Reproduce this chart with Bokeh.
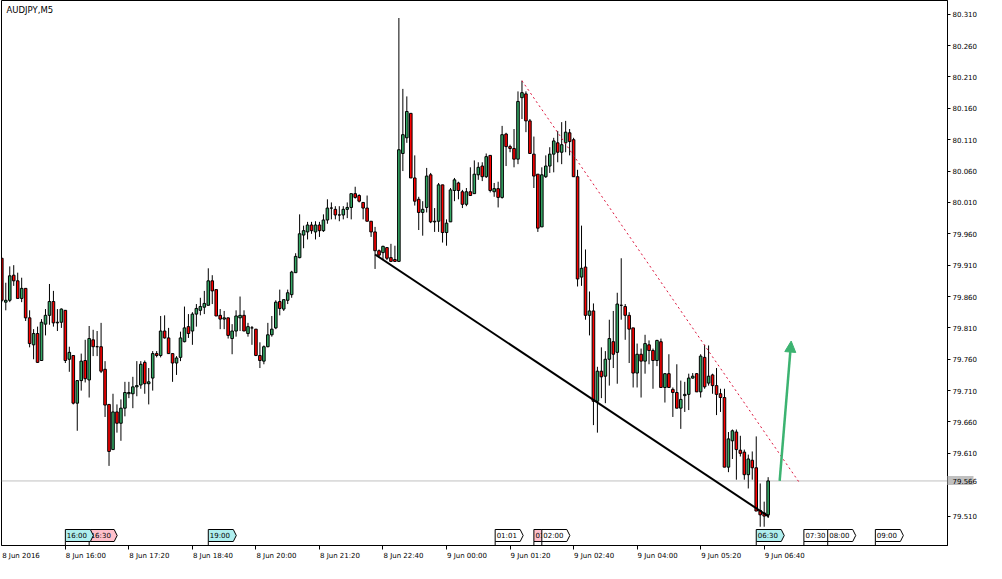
from bokeh.plotting import figure
from bokeh.models import (Range1d, FixedTicker, PrintfTickFormatter, Label,
                          ColumnDataSource, Span, Arrow, NormalHead)
from bokeh.core.properties import value
from bokeh.embed import file_html
from bokeh.resources import INLINE

# ---------------- data ----------------
symbol = "AUDJPY,M5"
first_bar = -1  # bar index of the first (partly hidden) candle; index 15 = 8 Jun 16:00

opens = [79.921, 79.851, 79.854, 79.894, 79.885, 79.857, 79.873, 79.826, 79.783, 79.801,
         79.758, 79.816, 79.830, 79.852, 79.818, 79.819, 79.838, 79.760, 79.766, 79.690,
         79.726, 79.758, 79.727, 79.791, 79.780, 79.780, 79.744, 79.688, 79.616, 79.676,
         79.658, 79.682, 79.705, 79.705, 79.716, 79.719, 79.755, 79.721, 79.730, 79.769,
         79.766, 79.805, 79.794, 79.769, 79.754, 79.763, 79.788, 79.812, 79.805, 79.832,
         79.838, 79.843, 79.846, 79.885, 79.871, 79.830, 79.824, 79.826, 79.793, 79.805,
         79.826, 79.830, 79.801, 79.810, 79.808, 79.766, 79.757, 79.780, 79.799, 79.810,
         79.852, 79.840, 79.854, 79.863, 79.898, 79.922, 79.958, 79.963, 79.974, 79.963,
         79.974, 79.965, 79.982, 80.001, 79.999, 79.990, 79.990, 79.999, 80.002, 80.024,
         80.021, 80.010, 80.001, 79.980, 79.963, 79.933, 79.930, 79.938, 79.922, 79.919,
         79.916, 80.088, 80.113, 80.152, 80.049, 80.015, 79.994, 80.002, 80.054, 79.979,
         79.980, 80.038, 79.962, 79.979, 80.029, 80.041, 80.027, 80.007, 80.027, 80.024,
         80.054, 80.068, 80.051, 80.085, 80.027, 80.032, 80.018, 80.119, 80.099, 80.096,
         80.079, 80.177, 80.183, 80.140, 80.087, 80.055, 79.971, 80.051, 80.068, 80.087,
         80.105, 80.090, 80.105, 80.121, 80.110, 80.051, 79.891, 79.907, 79.830, 79.837,
         79.693, 79.741, 79.733, 79.760, 79.788, 79.771, 79.846, 79.844, 79.830, 79.810,
         79.738, 79.768, 79.757, 79.783, 79.774, 79.758, 79.788, 79.715, 79.737, 79.712,
         79.707, 79.682, 79.702, 79.704, 79.730, 79.737, 79.708, 79.763, 79.722, 79.735,
         79.718, 79.705, 79.699, 79.588, 79.630, 79.644, 79.615, 79.612, 79.576, 79.599,
         79.587, 79.519, 79.515, 79.512]
highs = [79.921, 79.882, 79.908, 79.910, 79.898, 79.890, 79.873, 79.838, 79.808, 79.812,
         79.824, 79.840, 79.880, 79.869, 79.840, 79.841, 79.838, 79.780, 79.766, 79.726,
         79.769, 79.791, 79.813, 79.807, 79.805, 79.818, 79.757, 79.688, 79.705, 79.688,
         79.696, 79.724, 79.724, 79.732, 79.757, 79.757, 79.758, 79.746, 79.773, 79.773,
         79.829, 79.830, 79.810, 79.769, 79.765, 79.804, 79.844, 79.832, 79.835, 79.848,
         79.858, 79.869, 79.905, 79.894, 79.871, 79.840, 79.837, 79.826, 79.816, 79.838,
         79.860, 79.838, 79.818, 79.813, 79.808, 79.787, 79.782, 79.818, 79.829, 79.854,
         79.871, 79.855, 79.871, 79.901, 79.929, 79.991, 79.973, 79.979, 79.979, 79.980,
         79.979, 79.991, 80.015, 80.010, 80.004, 80.004, 80.004, 80.010, 80.024, 80.035,
         80.023, 80.010, 80.021, 79.980, 79.971, 79.935, 79.941, 79.938, 79.944, 79.941,
         80.304, 80.191, 80.179, 80.152, 80.085, 80.019, 80.012, 80.065, 80.057, 80.001,
         80.041, 80.038, 79.983, 80.033, 80.049, 80.043, 80.030, 80.033, 80.066, 80.077,
         80.074, 80.074, 80.088, 80.085, 80.041, 80.043, 80.132, 80.121, 80.102, 80.127,
         80.187, 80.204, 80.187, 80.143, 80.115, 80.055, 80.066, 80.085, 80.098, 80.113,
         80.124, 80.138, 80.140, 80.127, 80.113, 80.062, 79.973, 79.935, 79.868, 79.849,
         79.748, 79.779, 79.773, 79.823, 79.837, 79.866, 79.921, 79.848, 79.835, 79.810,
         79.785, 79.777, 79.799, 79.790, 79.777, 79.791, 79.793, 79.738, 79.768, 79.715,
         79.752, 79.726, 79.724, 79.737, 79.738, 79.738, 79.768, 79.783, 79.782, 79.737,
         79.746, 79.713, 79.713, 79.644, 79.648, 79.648, 79.638, 79.616, 79.608, 79.613,
         79.637, 79.562, 79.533, 79.572]
lows = [79.851, 79.838, 79.851, 79.877, 79.857, 79.851, 79.821, 79.779, 79.760, 79.754,
        79.758, 79.798, 79.815, 79.812, 79.805, 79.810, 79.754, 79.740, 79.688, 79.646,
        79.710, 79.723, 79.699, 79.765, 79.765, 79.738, 79.668, 79.590, 79.616, 79.643,
        79.630, 79.669, 79.698, 79.682, 79.701, 79.713, 79.705, 79.688, 79.710, 79.763,
        79.763, 79.793, 79.769, 79.724, 79.735, 79.757, 79.787, 79.794, 79.783, 79.812,
        79.830, 79.832, 79.846, 79.848, 79.829, 79.808, 79.808, 79.793, 79.768, 79.796,
        79.805, 79.805, 79.796, 79.783, 79.765, 79.746, 79.752, 79.779, 79.796, 79.808,
        79.830, 79.837, 79.848, 79.858, 79.898, 79.921, 79.937, 79.951, 79.960, 79.951,
        79.955, 79.963, 79.976, 79.983, 79.983, 79.980, 79.983, 79.985, 79.983, 80.016,
        80.010, 79.983, 79.980, 79.955, 79.904, 79.922, 79.918, 79.918, 79.915, 79.915,
        79.915, 80.060, 80.105, 80.049, 80.005, 79.966, 79.957, 79.994, 79.977, 79.963,
        79.963, 79.946, 79.941, 79.979, 80.012, 80.015, 80.001, 80.004, 80.021, 80.024,
        80.046, 80.044, 80.049, 80.026, 80.019, 80.002, 80.016, 80.068, 80.090, 80.066,
        80.071, 80.143, 80.122, 80.088, 80.033, 79.963, 79.971, 80.049, 80.057, 80.058,
        80.074, 80.071, 80.090, 80.085, 80.051, 79.876, 79.877, 79.823, 79.798, 79.655,
        79.643, 79.698, 79.690, 79.718, 79.746, 79.721, 79.823, 79.791, 79.754, 79.715,
        79.715, 79.699, 79.737, 79.752, 79.713, 79.749, 79.715, 79.691, 79.715, 79.668,
        79.682, 79.649, 79.676, 79.679, 79.729, 79.708, 79.699, 79.713, 79.718, 79.705,
        79.671, 79.676, 79.588, 79.580, 79.601, 79.568, 79.605, 79.568, 79.554, 79.568,
        79.518, 79.493, 79.493, 79.507]
closes = [79.854, 79.854, 79.893, 79.885, 79.857, 79.873, 79.826, 79.785, 79.801, 79.755,
          79.819, 79.830, 79.852, 79.818, 79.819, 79.840, 79.758, 79.771, 79.690, 79.726,
          79.757, 79.729, 79.793, 79.780, 79.780, 79.741, 79.687, 79.613, 79.676, 79.658,
          79.682, 79.707, 79.707, 79.716, 79.718, 79.752, 79.721, 79.724, 79.769, 79.766,
          79.805, 79.794, 79.769, 79.754, 79.762, 79.794, 79.810, 79.801, 79.832, 79.841,
          79.844, 79.849, 79.885, 79.869, 79.829, 79.824, 79.826, 79.798, 79.805, 79.829,
          79.830, 79.805, 79.812, 79.810, 79.766, 79.758, 79.780, 79.799, 79.808, 79.851,
          79.841, 79.855, 79.866, 79.899, 79.924, 79.960, 79.965, 79.974, 79.965, 79.974,
          79.965, 79.982, 80.001, 80.001, 79.990, 79.990, 79.999, 80.002, 80.024, 80.018,
          80.012, 80.001, 79.980, 79.963, 79.933, 79.926, 79.940, 79.921, 79.916, 79.916,
          80.094, 80.118, 80.155, 80.049, 80.012, 79.994, 79.999, 80.052, 79.979, 79.980,
          80.038, 79.962, 79.977, 80.030, 80.046, 80.029, 80.007, 80.027, 80.021, 80.055,
          80.066, 80.051, 80.083, 80.029, 80.032, 80.018, 80.118, 80.099, 80.096, 80.079,
          80.171, 80.185, 80.140, 80.088, 80.052, 79.969, 80.054, 80.068, 80.087, 80.108,
          80.090, 80.102, 80.122, 80.107, 80.051, 79.888, 79.905, 79.830, 79.837, 79.693,
          79.741, 79.732, 79.760, 79.793, 79.768, 79.848, 79.846, 79.830, 79.808, 79.738,
          79.768, 79.757, 79.785, 79.774, 79.758, 79.790, 79.715, 79.737, 79.715, 79.707,
          79.682, 79.696, 79.704, 79.730, 79.733, 79.708, 79.765, 79.716, 79.733, 79.718,
          79.704, 79.699, 79.588, 79.633, 79.646, 79.616, 79.610, 79.576, 79.601, 79.587,
          79.518, 79.512, 79.510, 79.566]

time_tick_index = [15, 31, 47, 63, 79, 95, 111, 127, 143, 159, 175, 191]
time_tick_labels = ["8 Jun 16:00", "8 Jun 17:20", "8 Jun 18:40", "8 Jun 20:00",
                    "8 Jun 21:20", "8 Jun 22:40", "9 Jun 00:00", "9 Jun 01:20",
                    "9 Jun 02:40", "9 Jun 04:00", "9 Jun 05:20", "9 Jun 06:40"]
left_date_label = "8 Jun 2016"

price_ticks = [79.51, 79.61, 79.66, 79.71, 79.76, 79.81, 79.86, 79.91,
               79.96, 80.01, 80.06, 80.11, 80.16, 80.21, 80.26, 80.31]
last_price = 79.566

# vertical-line time tags (drawn in this order)
tag_index = [21, 15, 51, 123.25, 133, 135, 189, 201, 207, 219]
tag_labels = ["16:30", "16:00", "19:00", "01:01", "01:50", "02:00", "06:30", "07:30", "08:00", "09:00"]
tag_colors = ["#FFC0CB", "#AFEEEE", "#AFEEEE", "#FFFFFF", "#FFC0CB", "#FFFFFF",
              "#AFEEEE", "#FFFFFF", "#FFFFFF", "#FFFFFF"]

support_x = [93.0, 192.2]
support_y = [79.927, 79.509]
resist_x = [130.0, 199.9]
resist_y = [80.204, 79.563]
arrow_x = [194.9, 197.8]
arrow_y = [79.566, 79.789]

# ---------------- layout constants ----------------
X0, X1 = -1.08, 237.17
Y0, Y1 = 79.4631, 80.3319
FW, FH = 946, 545
UP = "#34A865"
DOWN = "#FF0000"
ARROW = "#3CB371"
FONT = "DejaVu Sans"
px = (X1 - X0) / FW
py = (Y1 - Y0) / FH
HALF_DATE = 19.5   # half width (px) of the "8 Jun 2016" label
HALF_TIME = 20.5   # half width (px) of a "8 Jun 16:00" label
BOX_W = 26         # px length of the last-price box on the price scale

p = figure(frame_width=FW, frame_height=FH,
           x_range=Range1d(X0, X1), y_range=Range1d(Y0, Y1),
           y_axis_location="right", output_backend="svg", toolbar_location=None,
           min_border_left=1, min_border_top=0, min_border_right=39, min_border_bottom=18)
p.xgrid.visible = False
p.ygrid.visible = False
p.outline_line_color = "black"
p.outline_line_alpha = 1.0
p.background_fill_color = "white"
p.border_fill_color = "white"

# time axis: tick marks (minor ticks) at the bar times, labels left-aligned after them
label_pos = [round(X0 + HALF_DATE * px, 4)] + [round(t + HALF_TIME * px, 4) for t in time_tick_index]
xa = p.xaxis[0]
xa.ticker = FixedTicker(ticks=label_pos, minor_ticks=time_tick_index)
xa.major_label_overrides = dict(zip(label_pos, [left_date_label] + time_tick_labels))
xa.major_label_text_font_size = "7px"
xa.major_label_text_font = FONT
xa.major_label_text_color = "black"
xa.major_label_standoff = 2
xa.major_tick_out = 0
xa.major_tick_in = 0
xa.minor_tick_out = 4
xa.minor_tick_in = 0
xa.minor_tick_line_color = "black"
xa.axis_line_color = "black"

# price axis, with the last price drawn as a grey box (a wide minor tick)
ya = p.yaxis[0]
ya.ticker = FixedTicker(ticks=sorted(price_ticks + [last_price]), minor_ticks=[last_price])
ya.formatter = PrintfTickFormatter(format="%.3f")
ya.major_label_text_font_size = "7px"
ya.major_label_text_font = FONT
ya.major_label_text_color = "black"
ya.major_tick_out = 3
ya.major_tick_in = 0
ya.major_label_standoff = 5 - BOX_W
ya.axis_line_color = "black"
ya.major_tick_line_color = "black"
ya.minor_tick_in = 0
ya.minor_tick_out = BOX_W
ya.minor_tick_line_width = 9
ya.minor_tick_line_color = "#C0C0C0"

p.add_layout(Span(location=last_price, dimension="width", line_color="#C0C0C0",
                  line_width=1, level="underlay"))

bar_index = list(range(first_bar, first_bar + len(opens)))
src = ColumnDataSource(dict(
    x=bar_index, h=highs, l=lows,
    top=[max(o, c) for o, c in zip(opens, closes)],
    bottom=[min(o, c) for o, c in zip(opens, closes)],
    color=[UP if c >= o else DOWN for o, c in zip(opens, closes)],
))
p.segment(x0="x", y0="h", x1="x", y1="l", source=src, line_color="black", line_width=1)
p.vbar(x="x", width=0.65, top="top", bottom="bottom", fill_color="color",
       line_color="black", line_width=1, source=src)

p.line(support_x, support_y, line_color="black", line_width=2)
p.line(resist_x, resist_y, line_color="#DC143C", line_width=1, line_dash="2 3")
p.add_layout(Arrow(end=NormalHead(size=11, fill_color=ARROW, line_color=ARROW),
                   x_start=arrow_x[0], y_start=arrow_y[0], x_end=arrow_x[1], y_end=arrow_y[1],
                   line_color=ARROW, line_width=2.5))

# time tags at the bottom of the chart
for t, lab, col in zip(tag_index, tag_labels, tag_colors):
    xl, xr, xt = t, t + 25 * px, t + 28 * px
    yb, yt = Y0 + 4 * py, Y0 + 16 * py
    ym = (yb + yt) / 2
    p.segment(x0=[xl], y0=[Y0], x1=[xl], y1=[yb], line_color="black", line_width=1)
    p.patch([xl, xl, xr, xt, xr], [yb, yt, yt, ym, yb], fill_color=col,
            line_color="black", line_width=1)
    p.text(x=[xl + 1.5 * px], y=[ym], text=[lab], text_font=value(FONT),
           text_font_size="7px", text_baseline="middle", text_align="left", text_color="black")

p.add_layout(Label(x=X0, y=Y1, x_offset=5, y_offset=-4, text=symbol, text_baseline="top",
                   text_font_size="8.5px", text_font=FONT, text_color="black"))

open("out.html", "w").write(file_html(p, INLINE))
